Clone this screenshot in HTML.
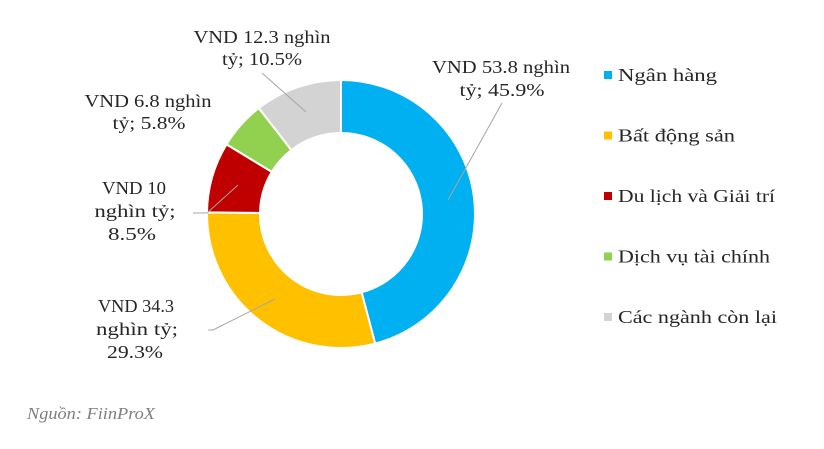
<!DOCTYPE html>
<html><head><meta charset="utf-8"><style>
body{margin:0;background:#fff;width:824px;height:444px;overflow:hidden;font-family:"Liberation Serif",serif;}
svg text{font-family:"Liberation Serif","Noto Serif CJK SC",serif;}
</style></head><body>
<svg id="chart" width="824" height="444">
<g id="slices"></g>
<g id="labels" font-size="18" fill="#262626" text-anchor="middle">
<text x="262" y="43" textLength="137" lengthAdjust="spacingAndGlyphs">VND 12.3 nghìn</text>
<text x="262" y="65" textLength="80" lengthAdjust="spacingAndGlyphs">tỷ; 10.5%</text>
<text x="501" y="73" textLength="138" lengthAdjust="spacingAndGlyphs">VND 53.8 nghìn</text>
<text x="502" y="96" textLength="85" lengthAdjust="spacingAndGlyphs">tỷ; 45.9%</text>
<text x="148" y="107" textLength="127" lengthAdjust="spacingAndGlyphs">VND 6.8 nghìn</text>
<text x="149" y="129" textLength="73" lengthAdjust="spacingAndGlyphs">tỷ; 5.8%</text>
<text x="134" y="194" textLength="64" lengthAdjust="spacingAndGlyphs">VND 10</text>
<text x="135" y="217" textLength="81" lengthAdjust="spacingAndGlyphs">nghìn tỷ;</text>
<text x="132" y="240" textLength="48" lengthAdjust="spacingAndGlyphs">8.5%</text>
<text x="136" y="312" textLength="76" lengthAdjust="spacingAndGlyphs">VND 34.3</text>
<text x="137" y="335" textLength="82" lengthAdjust="spacingAndGlyphs">nghìn tỷ;</text>
<text x="135" y="358" textLength="56" lengthAdjust="spacingAndGlyphs">29.3%</text>
</g>
<g stroke="#a6a6a6" stroke-width="1" fill="none">
<polyline points="262,73 306,112"/>
<polyline points="502,103 448,200"/>
<polyline points="193,213 207,213 238,185"/>
<polyline points="208,330 213,330 275,299"/>
</g>
<g id="legend" font-size="18" fill="#262626"></g>
<text x="27" y="419" font-size="17" font-style="italic" fill="#7f7f7f" textLength="128" lengthAdjust="spacingAndGlyphs">Nguồn: FiinProX</text>
</svg>
<script>
const categories=["Ngân hàng","Bất động sản","Du lịch và Giải trí","Dịch vụ tài chính","Các ngành còn lại"];
const values=[45.9,29.3,8.5,5.8,10.5];
const colors=["#00B0F0","#FFC000","#C00000","#92D050","#D3D3D3"];
const legendWidths=[99,117,157,152,159];
const NS="http://www.w3.org/2000/svg";
const cx=341,cy=214,R=134,r=81;
const total=values.reduce((a,b)=>a+b,0);
function pt(rad,a){return [cx+rad*Math.sin(a),cy-rad*Math.cos(a)];}
let acc=0;
const g=document.getElementById('slices');
values.forEach((v,i)=>{
 const a0=acc/total*2*Math.PI;acc+=v;const a1=acc/total*2*Math.PI;
 const lg=(a1-a0)>Math.PI?1:0;
 const [x0,y0]=pt(R,a0),[x1,y1]=pt(R,a1),[x2,y2]=pt(r,a1),[x3,y3]=pt(r,a0);
 const p=document.createElementNS(NS,'path');
 p.setAttribute('d',`M${x0},${y0}A${R},${R} 0 ${lg} 1 ${x1},${y1}L${x2},${y2}A${r},${r} 0 ${lg} 0 ${x3},${y3}Z`);
 p.setAttribute('fill',colors[i]);p.setAttribute('stroke','#fff');p.setAttribute('stroke-width','2');
 
 
 g.appendChild(p);
});
const lgd=document.getElementById('legend');
categories.forEach((c,i)=>{
 const y=75+i*60.5;
 const s=document.createElementNS(NS,'rect');
 s.setAttribute('x',604);s.setAttribute('y',y-4);s.setAttribute('width',8);s.setAttribute('height',8);s.setAttribute('fill',colors[i]);
 
 
 lgd.appendChild(s);
 const t=document.createElementNS(NS,'text');
 t.setAttribute('x',618);t.setAttribute('y',y+6);t.textContent=c;
 t.setAttribute('textLength',legendWidths[i]);t.setAttribute('lengthAdjust','spacingAndGlyphs');
 
 
 lgd.appendChild(t);
});
</script>
</body></html>
